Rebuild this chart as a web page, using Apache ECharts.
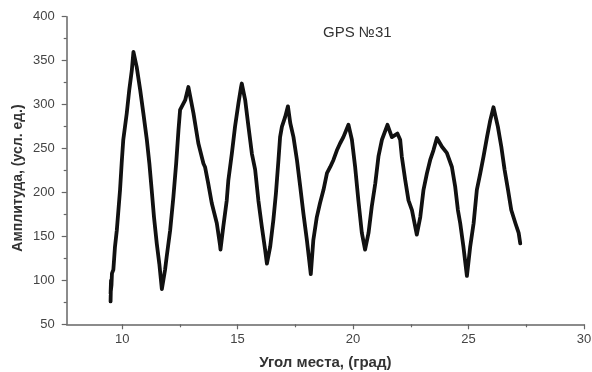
<!DOCTYPE html>
<html>
<head>
<meta charset="utf-8">
<script src="https://cdn.jsdelivr.net/npm/echarts@6/dist/echarts.min.js"></script>
<style>html,body{margin:0;padding:0;background:#fff;}#c{width:592px;height:372px;}</style>
</head>
<body>
<div id="c"></div>
<script>
const titleText = "GPS №31";
const xName = "Угол места, (град)";
const yName = "Амплитуда, (усл. ед.)";
const xMajorTicks = [10, 15, 20, 25, 30];
const xMinorTicks = [12.5, 17.5, 22.5, 27.5];
const angle = [9.50, 9.52, 9.50, 9.54, 9.56, 9.62, 9.69, 9.77, 9.91, 9.98, 10.05, 10.20, 10.31, 10.42, 10.49,
  10.63, 10.78, 10.92, 11.07, 11.18, 11.28, 11.38, 11.50, 11.61, 11.72,
  11.86, 11.93, 12.08, 12.22, 12.34, 12.44, 12.51, 12.73, 12.87, 12.91,
  13.09, 13.30, 13.52, 13.59, 13.73, 13.88, 14.10, 14.24, 14.26,
  14.38, 14.53, 14.60, 14.75, 14.89, 15.04, 15.15, 15.18,
  15.33, 15.47, 15.62, 15.76, 15.90, 16.05, 16.19, 16.27,
  16.41, 16.55, 16.66, 16.77, 16.84, 16.92, 17.06, 17.18,
  17.28, 17.42, 17.57, 17.71, 17.85, 18.00, 18.10, 18.17,
  18.28, 18.43, 18.57, 18.72, 18.87, 19.01, 19.15, 19.30, 19.44, 19.58, 19.80,
  19.95, 20.09, 20.23, 20.38, 20.52,
  20.67, 20.81, 20.96, 21.10, 21.25, 21.49, 21.68, 21.92, 22.04,
  22.11, 22.26, 22.40, 22.55, 22.76,
  22.91, 23.05, 23.20, 23.34, 23.48, 23.63,
  23.85, 24.06, 24.28, 24.42, 24.54, 24.64, 24.78, 24.93,
  25.07, 25.22, 25.36, 25.51, 25.65, 25.80, 25.94, 26.08,
  26.27, 26.42, 26.56, 26.71, 26.85, 27.03, 27.17, 27.24];
const amplitude = [76, 100, 85, 95, 108, 112, 138, 157, 203, 233, 260, 290, 317, 339, 360,
  343, 317, 290, 260, 233, 203, 172, 142, 119, 90,
  112, 127, 157, 195, 233, 271, 294, 305, 320, 322,
  290, 256, 233, 229, 210, 188, 165, 140, 135,
  161, 191, 214, 244, 275, 302, 320, 324,
  305, 275, 244, 226, 191, 161, 135, 119,
  138, 169, 199, 237, 263, 275, 286, 298,
  279, 263, 237, 207, 176, 146, 123, 107,
  146, 172, 188, 203, 222, 229, 237, 248, 256, 263, 277,
  260, 229, 191, 154, 135,
  154, 184, 210, 241, 260, 277, 263, 267, 260,
  241, 214, 191, 180, 152,
  172, 203, 222, 237, 248, 262,
  252, 245, 229, 207, 180, 165, 138, 105,
  138, 165, 203, 222, 241, 263, 282, 297,
  275, 252, 226, 203, 180, 165, 154, 142];

const pts = angle.map((a, i) => [a, amplitude[i]]);
const font = "'Liberation Sans', Arial, sans-serif";
const axisColor = '#666';
const gridBox = {left: 66.7, right: 8, top: 16.7, bottom: 47.7, containLabel: false, outerBoundsMode: 'none'};
const chart = echarts.init(document.getElementById('c'), null, {renderer: 'canvas'});
chart.setOption({
  backgroundColor: '#fff',
  animation: false,
  title: {text: titleText, left: 318, top: 20,
    textStyle: {fontFamily: font, fontSize: 15, fontWeight: 'normal', color: '#333'}},
  grid: [Object.assign({}, gridBox), Object.assign({}, gridBox)],
  graphic: [{
    type: 'text', x: 18, y: 178, rotation: Math.PI / 2, silent: true,
    style: {text: yName, align: 'center', verticalAlign: 'middle',
      font: "bold 14px 'Liberation Sans', Arial, sans-serif", fill: '#333'}
  }],
  xAxis: [{
    gridIndex: 0, type: 'value', min: 7.6, max: 30,
    name: xName, nameLocation: 'middle', nameGap: 31,
    nameTextStyle: {fontFamily: font, fontSize: 15, color: '#333', fontWeight: 'bold'},
    axisLine: {show: true, onZero: false, lineStyle: {color: axisColor, width: 1.5}},
    axisTick: {show: true, customValues: xMajorTicks, length: 5, lineStyle: {color: axisColor, width: 1.2}},
    axisLabel: {customValues: xMajorTicks, margin: 9, fontFamily: font, fontSize: 13, color: '#444'},
    splitLine: {show: false}
  }, {
    gridIndex: 1, type: 'value', min: 7.6, max: 30, position: 'bottom',
    axisLine: {show: false, onZero: false},
    axisTick: {show: true, customValues: xMinorTicks, length: 3, lineStyle: {color: axisColor, width: 1.2}},
    axisLabel: {show: true, customValues: xMinorTicks, color: 'rgba(0,0,0,0)', fontSize: 1},
    splitLine: {show: false}
  }],
  yAxis: [{
    gridIndex: 0, type: 'value', min: 50, max: 400, interval: 50,
    axisLine: {show: true, lineStyle: {color: axisColor, width: 1.5}},
    axisTick: {show: true, length: 5, lineStyle: {color: axisColor, width: 1.2}},
    minorTick: {show: true, splitNumber: 2, length: 3, lineStyle: {color: axisColor, width: 1.2}},
    axisLabel: {margin: 12, fontFamily: font, fontSize: 13, color: '#444'},
    splitLine: {show: false}
  }, {
    gridIndex: 1, type: 'value', min: 50, max: 400, show: false
  }],
  series: [{
    type: 'line', data: pts, xAxisIndex: 0, yAxisIndex: 0,
    showSymbol: false, symbol: 'none',
    lineStyle: {color: '#111', width: 3.8, join: 'round', cap: 'round'}
  }]
});
</script>
</body>
</html>
